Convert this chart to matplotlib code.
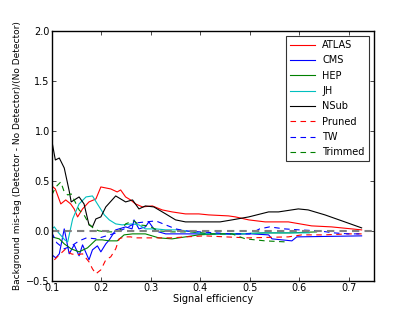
import matplotlib
matplotlib.use('Agg')
import matplotlib.pyplot as plt

# values
atlas_x = [0.100, 0.107, 0.118, 0.128, 0.138, 0.145, 0.152, 0.162, 0.175, 0.189, 0.199, 0.219,
           0.232, 0.239, 0.249, 0.259, 0.269, 0.283, 0.303, 0.323, 0.343, 0.370, 0.397, 0.417,
           0.457, 0.471, 0.498, 0.531, 0.578, 0.625, 0.665, 0.726]
atlas_y = [0.45, 0.42, 0.27, 0.31, 0.27, 0.22, 0.14, 0.22, 0.29, 0.32, 0.44, 0.42,
           0.39, 0.41, 0.34, 0.31, 0.27, 0.24, 0.25, 0.21, 0.19, 0.17, 0.17, 0.16,
           0.15, 0.14, 0.11, 0.09, 0.09, 0.05, 0.04, 0.01]

cms_x = [0.100, 0.108, 0.115, 0.125, 0.135, 0.145, 0.155, 0.162, 0.175, 0.182, 0.192, 0.199,
         0.209, 0.216, 0.229, 0.249, 0.262, 0.266, 0.276, 0.289, 0.296, 0.306, 0.316, 0.330,
         0.357, 0.397, 0.464, 0.504, 0.538, 0.545, 0.585, 0.595, 0.726]
cms_y = [-0.24, -0.27, -0.23, 0.02, -0.23, -0.14, -0.25, -0.14, -0.29, -0.19, -0.15, -0.21,
         -0.13, -0.09, 0.01, 0.04, 0.02, 0.11, 0.02, 0.04, 0.09, 0.02, -0.01, -0.03,
         -0.03, -0.03, -0.03, -0.03, -0.04, -0.08, -0.10, -0.06, -0.05]

hep_x = [0.100, 0.115, 0.125, 0.139, 0.155, 0.172, 0.189, 0.202, 0.216, 0.232, 0.246, 0.263,
         0.289, 0.316, 0.343, 0.370, 0.397, 0.437, 0.477, 0.530, 0.580, 0.635]
hep_y = [-0.06, -0.08, -0.13, -0.18, -0.21, -0.17, -0.09, -0.09, -0.10, -0.10, -0.04, -0.03,
         -0.03, -0.07, -0.08, -0.06, -0.04, -0.03, -0.03, -0.02, -0.02, -0.01]

jh_x = [0.100, 0.105, 0.112, 0.126, 0.132, 0.142, 0.155, 0.169, 0.182, 0.192, 0.206, 0.216,
        0.229, 0.242, 0.263, 0.276, 0.289, 0.310, 0.330, 0.357, 0.383, 0.410, 0.437, 0.477,
        0.530, 0.580, 0.620]
jh_y = [0.02, 0.04, -0.01, -0.09, -0.11, 0.12, 0.27, 0.34, 0.35, 0.27, 0.16, 0.11,
        0.07, 0.06, 0.07, 0.06, 0.02, 0.02, 0.01, 0.01, -0.01, -0.03, -0.03, -0.03,
        -0.02, -0.02, -0.02]

nsub_x = [0.100, 0.107, 0.115, 0.125, 0.135, 0.139, 0.155, 0.165, 0.175, 0.182, 0.189, 0.199,
          0.209, 0.229, 0.249, 0.263, 0.276, 0.289, 0.306, 0.330, 0.350, 0.370, 0.397, 0.440,
          0.464, 0.498, 0.538, 0.558, 0.598, 0.618, 0.652, 0.692, 0.726]
nsub_y = [0.90, 0.71, 0.73, 0.63, 0.40, 0.29, 0.34, 0.27, 0.06, 0.04, 0.12, 0.14,
          0.24, 0.35, 0.29, 0.31, 0.22, 0.25, 0.24, 0.17, 0.11, 0.09, 0.09, 0.09,
          0.11, 0.14, 0.19, 0.19, 0.22, 0.21, 0.16, 0.09, 0.03]

pruned_x = [0.105, 0.115, 0.128, 0.139, 0.149, 0.162, 0.175, 0.182, 0.189, 0.199, 0.209, 0.219,
            0.229, 0.236, 0.246, 0.259, 0.269, 0.289, 0.316, 0.343, 0.370, 0.410, 0.450, 0.498,
            0.578, 0.605, 0.650, 0.700, 0.726]
pruned_y = [-0.29, -0.24, -0.18, -0.23, -0.24, -0.23, -0.31, -0.38, -0.43, -0.39, -0.29, -0.26,
            -0.18, -0.08, -0.06, -0.06, -0.07, -0.07, -0.07, -0.07, -0.06, -0.05, -0.06, -0.07,
            -0.06, -0.04, -0.04, -0.03, -0.03]

tw_x = [0.100, 0.110, 0.125, 0.140, 0.155, 0.170, 0.190, 0.210, 0.230, 0.250, 0.270, 0.290,
        0.310, 0.330, 0.350, 0.370, 0.400, 0.430, 0.460, 0.500, 0.520, 0.540, 0.570, 0.600,
        0.640, 0.670, 0.700, 0.725]
tw_y = [-0.02, -0.12, -0.18, -0.15, -0.10, -0.07, -0.08, -0.05, -0.02, 0.03, 0.08, 0.09,
        0.10, 0.06, 0.02, 0.00, -0.01, -0.02, -0.03, -0.03, 0.02, 0.04, 0.02, 0.01,
        0.00, -0.02, -0.03, -0.03]

trimmed_x = [0.100, 0.108, 0.118, 0.125, 0.132, 0.139, 0.149, 0.155, 0.165, 0.175, 0.185, 0.195,
             0.209, 0.229, 0.242, 0.249, 0.259, 0.266, 0.276, 0.296, 0.316, 0.343, 0.383, 0.424,
             0.464, 0.491, 0.531, 0.571]
trimmed_y = [0.36, 0.44, 0.49, 0.39, 0.36, 0.37, 0.27, 0.21, 0.16, 0.07, 0.02, 0.00,
             -0.01, -0.01, 0.02, 0.07, 0.09, 0.10, 0.06, 0.05, 0.00, -0.01, -0.01, -0.03,
             -0.03, -0.08, -0.10, -0.11]

fig, ax = plt.subplots(1, 1, figsize=(4.15, 3.12), dpi=100)

lw = 0.8
dash = (5, 4)
ax.plot(atlas_x, atlas_y, color='r', lw=lw, label='ATLAS')
ax.plot(cms_x, cms_y, color='b', lw=lw, label='CMS')
ax.plot(hep_x, hep_y, color='g', lw=lw, label='HEP')
ax.plot(jh_x, jh_y, color='c', lw=lw, label='JH')
ax.plot(nsub_x, nsub_y, color='k', lw=lw, label='NSub')
ax.plot(pruned_x, pruned_y, color='r', lw=lw, ls='--', dashes=dash, label='Pruned')
ax.plot(tw_x, tw_y, color='b', lw=lw, ls='--', dashes=dash, label='TW')
ax.plot(trimmed_x, trimmed_y, color='g', lw=lw, ls='--', dashes=dash, label='Trimmed')

# zero reference
ax.axhline(0.0, color='grey', lw=1.5, ls='--', dashes=(3.5, 2.5))

ax.set_xlim(0.1, 0.75)
ax.set_ylim(-0.5, 2.0)
ax.set_xticks([0.1, 0.2, 0.3, 0.4, 0.5, 0.6, 0.7])
ax.set_yticks([-0.5, 0.0, 0.5, 1.0, 1.5, 2.0])
ax.tick_params(direction='in', top=True, right=True, labelsize=7, length=3, width=0.5, pad=1.5)
for s in ax.spines.values():
    s.set_linewidth(1.0)

ax.set_xlabel('Signal efficiency', fontsize=7, labelpad=1)
ax.set_ylabel('Background mis-tag (Detector - No Detector)/(No Detector)', fontsize=6.5, labelpad=3)
leg = ax.legend(loc='upper right', fontsize=7, fancybox=False, handlelength=2.5, borderpad=0.4,
                labelspacing=0.55)
leg.get_frame().set_edgecolor('black')
leg.get_frame().set_linewidth(0.8)

fig.subplots_adjust(left=0.125, right=0.9, bottom=0.1, top=0.9)
fig.savefig('out.png', dpi=100)
